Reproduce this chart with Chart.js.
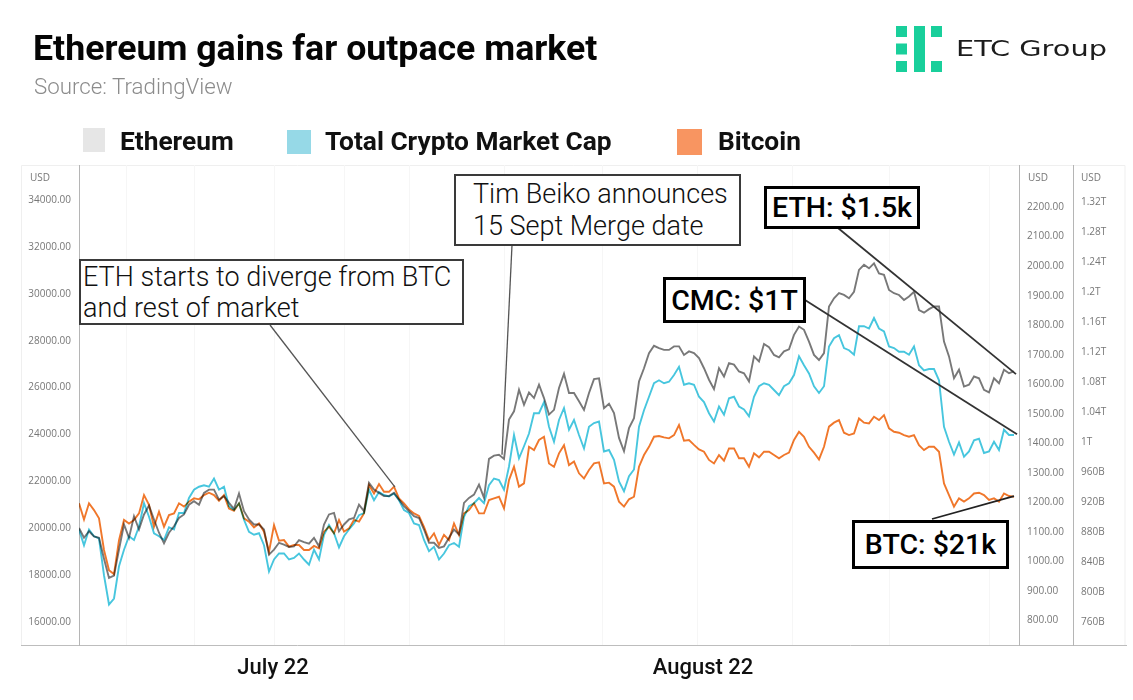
<!DOCTYPE html>
<html>
<head>
<meta charset="utf-8">
<script src="https://cdn.jsdelivr.net/npm/chart.js@4/dist/chart.umd.min.js"></script>
<style>
html,body{margin:0;padding:0;background:#fff;width:1133px;height:700px;overflow:hidden;font-family:Roboto,sans-serif}
#wrap{position:relative;width:1133px;height:700px}
canvas{position:absolute;left:0;top:0}
.t{position:absolute;white-space:nowrap}
.box{position:absolute;background:#fff;box-sizing:border-box;white-space:nowrap}
.note{border:2px solid #3a3a3a;font-weight:300;font-size:27px;line-height:31px;color:#111}
.call{border:3px solid #000;font-weight:500;font-size:28.5px;color:#000;text-align:center}
.sw{position:absolute}
.leg{position:absolute;font-weight:700;font-size:26.3px;color:#111;line-height:30px;white-space:nowrap;top:126px}
.usd{position:absolute;font:10px "Open Sans",sans-serif;color:#777;top:170px}
</style>
</head>
<body>
<div id="wrap">
<canvas id="c" width="1133" height="700"></canvas>
<div class="t" style="left:33px;top:27px;font-size:35.7px;font-weight:700;color:#050505;line-height:42px">Ethereum gains far outpace market</div>
<div class="t" style="left:34px;top:72px;font-size:22.3px;font-weight:300;color:#8c8c8c;line-height:28px">Source: TradingView</div>

<svg style="position:absolute;left:896px;top:26px" width="46" height="46" fill="#19CF9B">
<rect x="0" y="0" width="11" height="11"/><rect x="0" y="17.5" width="11" height="11"/><rect x="0" y="35" width="11" height="11"/>
<rect x="18" y="0" width="11" height="46"/>
<rect x="35" y="0" width="11" height="11"/><rect x="35" y="35" width="11" height="11"/>
</svg>
<div class="t" style="left:956px;top:34px;font:400 21px 'DejaVu Sans',sans-serif;color:#1c1c1c;line-height:30px;transform:scaleX(1.37);transform-origin:left center">ETC Group</div>

<div class="sw" style="left:83px;top:128px;width:22px;height:24px;background:#E6E6E6"></div>
<div class="leg" style="left:120px">Ethereum</div>
<div class="sw" style="left:287px;top:130px;width:24px;height:24px;background:#96D9E7"></div>
<div class="leg" style="left:325px">Total Crypto Market Cap</div>
<div class="sw" style="left:677px;top:129px;width:25px;height:26px;background:#F89561"></div>
<div class="leg" style="left:718px">Bitcoin</div>

<div class="usd" style="left:30px">USD</div>
<div class="usd" style="left:1028px">USD</div>
<div class="usd" style="left:1081px">USD</div>

<div class="box note" style="left:79px;top:259px;width:385px;height:66px;padding:1px 0 0 2px">ETH starts to diverge from BTC<br>and rest of market</div>
<div class="box note" style="left:454px;top:174px;width:287px;height:72px;padding:2px 0 0 17px;line-height:32px">Tim Beiko announces<br>15 Sept Merge date</div>
<div class="box call" style="left:764px;top:186px;width:156px;height:43px;line-height:38px">ETH: $1.5k</div>
<div class="box call" style="left:663px;top:277px;width:143px;height:46px;line-height:41px">CMC: $1T</div>
<div class="box call" style="left:852px;top:520px;width:157px;height:49px;line-height:44px">BTC: $21k</div>
</div>
<script>
const bitcoin = [21020,20330,21020,20730,20380,19030,18170,18000,19450,20310,20160,20310,20590,21370,20950,20020,20660,20020,20520,20590,21020,20880,21090,21230,21190,21370,21470,21370,21130,21370,20800,20700,21020,20380,
20235,19990,20160,19810,18950,20090,19420,19450,19170,19240,19240,19030,19030,19200,19100,19810,20020,19740,20310,19810,19950,20310,20240,20590,21800,21440,21840,21510,21510,21730,21230,21020,20760,
20590,20480,20020,19450,19740,19240,19670,19450,20160,19670,20590,20730,21020,20590,20590,21160,21230,21300,20800,22010,22580,21730,21870,23430,23290,23720,23860,22720,22580,23150,23500,22650,
22800,22300,22080,22440,22720,22770,21870,21900,21730,21090,20880,21190,21300,22580,23080,23430,23860,23890,23830,23790,23930,24360,23690,23720,23510,23320,23220,22870,22720,23080,22840,23360,
23360,22940,22940,22580,23150,22980,23220,23220,23080,22940,23080,23180,23720,24070,23860,23430,23180,22890,23430,24290,24460,24570,24030,23930,24000,24640,24460,24430,24710,24570,24780,24220,
24070,24030,23930,23860,23930,23500,23290,23430,23430,23220,21870,21370,20880,21230,21090,21230,21440,21470,21370,21160,21230,21090,21440,21330,21300];

const ethereum = [1110,1077,1099,1082,1077,1006,941,949,1037,1122,1077,1150,1105,1156,1186,1139,1094,1058,1094,1116,1144,1156,1189,1201,1189,1229,1240,1240,1206,1218,1195,1175,1227,1167,
1139,1122,1122,1105,1020,1037,1060,1054,1046,1048,1069,1062,1057,1077,1048,1122,1156,1161,1099,1122,1139,1144,1189,1167,1263,1240,1229,1218,1218,1229,1206,1184,1167,
1150,1144,1105,1060,1060,1043,1048,1077,1105,1088,1195,1212,1223,1257,1212,1344,1355,1358,1344,1477,1505,1578,1527,1569,1550,1595,1550,1494,1510,1584,1632,1567,
1567,1539,1510,1567,1614,1617,1516,1531,1499,1415,1370,1448,1482,1606,1651,1702,1727,1719,1713,1713,1725,1725,1696,1708,1702,1685,1651,1612,1580,1651,1623,1668,
1663,1640,1634,1606,1691,1674,1733,1722,1696,1688,1708,1715,1764,1792,1781,1741,1696,1679,1702,1860,1888,1905,1899,1888,1910,1984,2001,1989,2006,1972,1967,1916,
1905,1899,1882,1894,1910,1848,1839,1851,1860,1860,1741,1691,1617,1646,1589,1595,1623,1617,1578,1569,1617,1600,1646,1634,1640];

const marketCap = [882,861,882,873,870,821,782,790,833,855,873,868,886,917,899,877,873,868,885,882,904,904,924,935,939,941,939,950,935,939,913,908,917,895,
879,875,877,861,826,842,850,850,842,844,850,842,835,855,842,875,888,877,858,873,882,890,901,904,935,921,932,928,926,930,921,908,904,
890,888,868,853,859,842,850,861,864,859,899,913,917,924,917,941,950,948,935,966,1008,977,993,1010,1037,1037,1052,1019,999,1028,1044,1015,
1028,1008,990,1019,1024,1026,986,988,975,946,933,953,962,1019,1041,1059,1077,1081,1077,1079,1088,1099,1075,1077,1075,1059,1052,1037,1026,1046,1035,1057,
1059,1046,1042,1033,1059,1073,1077,1075,1068,1061,1073,1077,1088,1113,1101,1090,1073,1064,1073,1126,1137,1141,1124,1121,1115,1153,1153,1150,1164,1150,1146,1126,
1124,1119,1119,1115,1126,1101,1094,1096,1096,1081,1019,999,982,998,979,986,1001,1003,984,986,999,988,1015,1008,1008];

const btcTicks = [16000,18000,20000,22000,24000,26000,28000,30000,32000,34000];
const ethTicks = [800,900,1000,1100,1200,1300,1400,1500,1600,1700,1800,1900,2000,2100,2200];
const capTicks = [760,800,840,880,920,960,1000,1040,1080,1120,1160,1200,1240,1280,1320];
const gridSteps = [9.5,23,39,53,66,85,104.6,123.6,142.6,162,182];
const monthLabels = [[38.8,'July 22'],[124.8,'August 22']];

const connectors = [
  {from:[270,325],step:63.2,axis:'yBtc',value:21714,color:'#555',width:1.3},
  {from:[512,245],step:84.6,axis:'yEth',value:1358,color:'#555',width:1.3},
  {from:[838,228],step:187.4,axis:'yEth',value:1631,color:'#333',width:1.8},
  {from:[805,300],step:187.6,axis:'yCap',value:1009,color:'#333',width:1.8},
  {from:[932,519],step:187,axis:'yBtc',value:21330,color:'#222',width:1.8}
];

const toXY = arr => arr.map((v,i)=>({x:i,y:v}));
const fixTicks = list => axis => { axis.ticks = list.map(value=>({value})); };
const tickFont = {family:'"Open Sans"',size:10};

const decor = {
  id:'decor',
  beforeDraw(chart){
    const {ctx} = chart;
    ctx.save();
    ctx.strokeStyle='#efefef'; ctx.lineWidth=1;
    ctx.beginPath();
    ctx.moveTo(21.5,645); ctx.lineTo(21.5,165.5); ctx.lineTo(1125,165.5); ctx.lineTo(1125,645);
    ctx.stroke();
    ctx.strokeStyle='#bdbdbd';
    ctx.beginPath(); ctx.moveTo(21,645.5); ctx.lineTo(1127,645.5); ctx.stroke();
    ctx.restore();
  },
  beforeDatasetDraw(chart){ chart.ctx.save(); chart.ctx.globalCompositeOperation='multiply'; },
  afterDatasetDraw(chart){ chart.ctx.restore(); },
  afterDatasetsDraw(chart){
    const {ctx,scales} = chart;
    ctx.save();
    connectors.forEach(c=>{
      ctx.strokeStyle=c.color; ctx.lineWidth=c.width;
      ctx.beginPath();
      ctx.moveTo(c.from[0],c.from[1]);
      ctx.lineTo(scales.x.getPixelForValue(c.step),scales[c.axis].getPixelForValue(c.value));
      ctx.stroke();
    });
    ctx.restore();
  }
};

new Chart(document.getElementById('c'),{
  type:'line',
  data:{datasets:[
    {label:'Total Crypto Market Cap',data:toXY(marketCap),yAxisID:'yCap',borderColor:'#47C6DE',borderWidth:1.9,pointRadius:0,tension:0},
    {label:'Bitcoin',data:toXY(bitcoin),yAxisID:'yBtc',borderColor:'#F0772B',borderWidth:1.9,pointRadius:0,tension:0},
    {label:'Ethereum',data:toXY(ethereum),yAxisID:'yEth',borderColor:'#787878',borderWidth:1.9,pointRadius:0,tension:0}
  ]},
  options:{
    responsive:false,animation:false,devicePixelRatio:1,
    layout:{padding:{left:21,right:8,top:165,bottom:0}},
    plugins:{legend:{display:false},title:{display:false},tooltip:{enabled:false}},
    scales:{
      x:{type:'linear',min:0,max:188,
        afterBuildTicks:axis=>{
          axis.ticks=[...gridSteps.map(value=>({value})),...monthLabels.map(m=>({value:m[0]}))].sort((a,b)=>a.value-b.value);
        },
        afterFit:axis=>{axis.height=55;},
        border:{display:false},
        grid:{drawTicks:false,color:c=>monthLabels.some(m=>c.tick&&m[0]===c.tick.value)?'rgba(0,0,0,0)':'#f6f6f6'},
        ticks:{autoSkip:false,maxRotation:0,padding:10,color:'#111',font:{family:'Roboto',size:22,weight:'500'},
          callback:v=>{const m=monthLabels.find(p=>p[0]===v);return m?m[1]:'';}}
      },
      yBtc:{position:'left',min:14976,max:35450,
        afterBuildTicks:fixTicks(btcTicks),afterFit:a=>{a.width=58;},
        border:{display:true,color:'#b5b5b5'},grid:{display:false,drawTicks:false},
        ticks:{padding:8,labelOffset:1,color:'#777',font:tickFont,callback:v=>v.toFixed(2)}
      },
      yEth:{position:'right',min:714,max:2339,
        afterBuildTicks:fixTicks(ethTicks),afterFit:a=>{a.width=54;},
        border:{display:true,color:'#b5b5b5'},grid:{display:false,drawTicks:false},
        ticks:{padding:8,labelOffset:1,color:'#777',font:tickFont,callback:v=>v.toFixed(2)}
      },
      yCap:{position:'right',min:728,max:1368,
        afterBuildTicks:fixTicks(capTicks),afterFit:a=>{a.width=52;},
        border:{display:true,color:'#b5b5b5'},grid:{display:false,drawTicks:false},
        ticks:{padding:8,labelOffset:1,color:'#777',font:tickFont,callback:v=>v>=1000?(v/1000)+'T':v+'B'}
      }
    }
  },
  plugins:[decor]
});
</script>
</body>
</html>
